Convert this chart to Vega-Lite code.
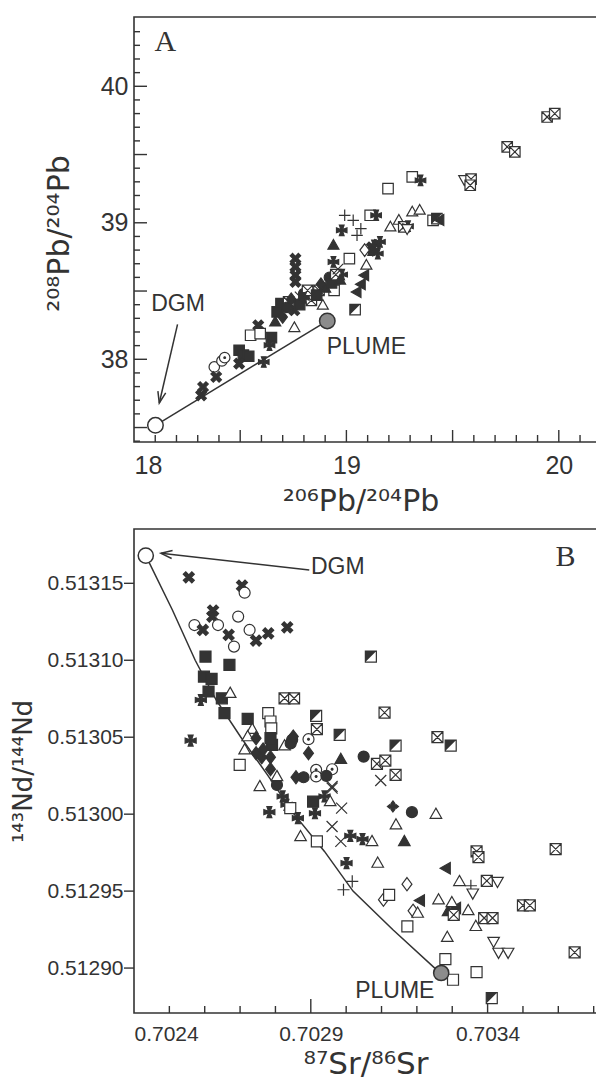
{
"$schema": "https://vega.github.io/schema/vega-lite/v6.json",
"padding": {"left": 9, "top": 16, "right": 0, "bottom": 2},
"bounds": "flush",
"spacing": 87,
"config": {
  "view": {"stroke": "#333", "strokeWidth": 1.6},
  "font": "Liberation Sans",
  "axis": {"domain": false, "grid": false, "ticks": false, "labelFont": "Liberation Sans", "titleFont": "DejaVu Sans", "labelColor": "#333", "titleColor": "#333", "titleFontWeight": "normal"}
},
"vconcat": [
{
  "width": 470, "height": 425,
  "encoding": {
    "x": {"field": "x", "type": "quantitative", "scale": {"domain": [18, 20.2128], "nice": false, "zero": false},
      "axis": {"values": [18, 19, 20], "format": "d",
        "labelPadding": 11, "labelFontSize": 25,
        "title": "²⁰⁶Pb/²⁰⁴Pb", "titleFontSize": 30, "titleX": 226.5, "titleY": 68, "titleBaseline": "alphabetic", "titleAlign": "center"}},
    "y": {"field": "y", "type": "quantitative", "scale": {"domain": [37.394, 40.5076], "nice": false, "zero": false},
      "axis": {"values": [38, 39, 40], "format": "d",
        "labelPadding": 6, "labelFontSize": 25,
        "title": "²⁰⁸Pb/²⁰⁴Pb", "titleFontSize": 30, "titleX": -74.5, "titleY": 216, "titleBaseline": "middle", "titleAlign": "center", "titleAngle": 270}}
  },
  "layer": [
    {
      "data": {"values": [{"x":18.1,"y":37.394},{"x":18.2,"y":37.394},{"x":18.3,"y":37.394},{"x":18.4,"y":37.394},{"x":18.6,"y":37.394},{"x":18.7,"y":37.394},{"x":18.8,"y":37.394},{"x":18.9,"y":37.394},{"x":19.1,"y":37.394},{"x":19.2,"y":37.394},{"x":19.3,"y":37.394},{"x":19.4,"y":37.394},{"x":19.6,"y":37.394},{"x":19.7,"y":37.394},{"x":19.8,"y":37.394},{"x":19.9,"y":37.394},{"x":20.1,"y":37.394},{"x":20.2,"y":37.394}]},
      "mark": {"type": "point", "shape": "M-0.1,0H0.1V-1H-0.1Z", "filled": true, "size": 196, "color": "#333", "strokeWidth": 0, "opacity": 1}
    },
    {
      "data": {"values": [{"x":18.5,"y":37.394},{"x":19,"y":37.394},{"x":19.5,"y":37.394},{"x":20,"y":37.394}]},
      "mark": {"type": "point", "shape": "M-0.058,0H0.058V-1H-0.058Z", "filled": true, "size": 576, "color": "#333", "strokeWidth": 0, "opacity": 1}
    },
    {
      "data": {"values": [{"x":18,"y":37.4},{"x":18,"y":37.6},{"x":18,"y":37.7},{"x":18,"y":37.8},{"x":18,"y":37.9},{"x":18,"y":38.1},{"x":18,"y":38.2},{"x":18,"y":38.3},{"x":18,"y":38.4},{"x":18,"y":38.6},{"x":18,"y":38.7},{"x":18,"y":38.8},{"x":18,"y":38.9},{"x":18,"y":39.1},{"x":18,"y":39.2},{"x":18,"y":39.3},{"x":18,"y":39.4},{"x":18,"y":39.6},{"x":18,"y":39.7},{"x":18,"y":39.8},{"x":18,"y":39.9},{"x":18,"y":40.1},{"x":18,"y":40.2},{"x":18,"y":40.3},{"x":18,"y":40.4}]},
      "mark": {"type": "point", "shape": "M0,-0.117H1V0.117H0Z", "filled": true, "size": 144, "color": "#333", "strokeWidth": 0, "opacity": 1}
    },
    {
      "data": {"values": [{"x":18,"y":37.5},{"x":18,"y":38},{"x":18,"y":38.5},{"x":18,"y":39},{"x":18,"y":39.5},{"x":18,"y":40}]},
      "mark": {"type": "point", "shape": "M0,-0.054H1V0.054H0Z", "filled": true, "size": 676, "color": "#333", "strokeWidth": 0, "opacity": 1}
    },
    {
      "data": {"values": [
        {"g": "mix", "i": 0, "x": 18.101, "y": 37.516},
        {"g": "mix", "i": 1, "x": 18.91, "y": 38.281},
        {"g": "arrow", "i": 0, "x": 18.205, "y": 38.256},
        {"g": "arrow", "i": 1, "x": 18.119, "y": 37.68}
      ]},
      "mark": {"type": "line", "color": "#333", "strokeWidth": 1.5},
      "encoding": {"detail": {"field": "g"}, "order": {"field": "i"}}
    },
    {
      "data": {"values": [{"x": 18.119, "y": 37.68}]},
      "mark": {"type": "point", "shape": "M-0.5,1.4L0,0L0.5,1.4", "filled": false, "size": 256, "angle": 193, "stroke": "#333", "strokeWidth": 1.5, "opacity": 1}
    },
    {
      "data": {"values": [
        {"s":"sqx","x":19.945,"y":39.775},{"s":"sqx","x":19.981,"y":39.80},
        {"s":"sqx","x":19.757,"y":39.556},{"s":"sqx","x":19.793,"y":39.519},
        {"s":"tridown","x":19.555,"y":39.316},
        {"s":"sqx","x":19.587,"y":39.32},{"s":"sqx","x":19.583,"y":39.275},
        {"s":"sq","x":19.196,"y":39.25},{"s":"sq","x":19.31,"y":39.336},{"s":"maltese","x":19.349,"y":39.311},
        {"s":"sq","x":19.112,"y":39.055},{"s":"maltese","x":19.14,"y":39.055},
        {"s":"plus","x":18.992,"y":39.055},{"s":"plus","x":19.032,"y":39.018},{"s":"plus","x":19.068,"y":38.957},{"s":"plus","x":19.05,"y":38.908},
        {"s":"maltese","x":18.978,"y":38.945},
        {"s":"trifill","x":18.939,"y":38.835},
        {"s":"maltese","x":18.939,"y":38.713},
        {"s":"sq","x":19.014,"y":38.737},
        {"s":"tri","x":19.207,"y":38.969},{"s":"tri","x":19.247,"y":39.018},{"s":"tri","x":19.31,"y":39.079},{"s":"tri","x":19.345,"y":39.092},
        {"s":"sqx","x":19.27,"y":38.97},{"s":"maltese","x":19.29,"y":38.975},{"s":"tridown","x":19.286,"y":38.957},
        {"s":"sq","x":19.408,"y":39.018},{"s":"sqhalf","x":19.426,"y":39.03},{"s":"trileft","x":19.44,"y":39.02},
        {"s":"xcross","x":19.12,"y":38.82},
        {"s":"maltese","x":19.13,"y":38.835},{"s":"maltese","x":19.158,"y":38.86},{"s":"maltese","x":19.112,"y":38.80},{"s":"maltese","x":19.148,"y":38.774},
        {"s":"diamond","x":19.086,"y":38.80},
        {"s":"tri","x":19.094,"y":38.689},
        {"s":"trileft","x":19.086,"y":38.615},{"s":"trileft","x":19.07,"y":38.55},{"s":"trileft","x":19.05,"y":38.493},
        {"s":"xcross","x":18.76,"y":38.737},{"s":"xcross","x":18.76,"y":38.677},{"s":"xcross","x":18.76,"y":38.616},{"s":"xcross","x":18.76,"y":38.567},
        {"s":"trifill","x":18.942,"y":38.579},
        {"s":"sqx","x":18.871,"y":38.505},{"s":"sqx","x":18.835,"y":38.432},{"s":"sq","x":18.942,"y":38.505},
        {"s":"sqhalf","x":19.041,"y":38.364},
        {"s":"tri","x":18.889,"y":38.396},
        {"s":"sqfill","x":18.692,"y":38.408},{"s":"sqx","x":18.728,"y":38.42},{"s":"x","x":18.782,"y":38.457},
        {"s":"xcross","x":18.755,"y":38.359},{"s":"sqfill","x":18.674,"y":38.347},{"s":"diafill","x":18.70,"y":38.31},
        {"s":"cfill","x":18.799,"y":38.481},{"s":"tri","x":18.755,"y":38.232},{"s":"trifill","x":18.665,"y":38.273},
        {"s":"sqx","x":18.817,"y":38.505},
        {"s":"cfill","x":18.72,"y":38.38},{"s":"sqfill","x":18.78,"y":38.40},{"s":"maltese","x":18.80,"y":38.45},
        {"s":"trifill","x":18.90,"y":38.52},{"s":"diafill","x":18.88,"y":38.55},{"s":"cfill","x":18.92,"y":38.60},
        {"s":"sqfill","x":18.93,"y":38.56},{"s":"maltese","x":18.98,"y":38.62},{"s":"sqx","x":18.95,"y":38.62},
        {"s":"x","x":18.96,"y":38.66},{"s":"trifill","x":18.97,"y":38.58},{"s":"sqfill","x":18.86,"y":38.47},{"s":"diafill","x":18.74,"y":38.44},
        {"s":"xcross","x":18.585,"y":38.249},
        {"s":"sq","x":18.549,"y":38.176},{"s":"sq","x":18.594,"y":38.188},
        {"s":"sqfill","x":18.647,"y":38.159},{"s":"maltese","x":18.638,"y":38.103},
        {"s":"sqfill","x":18.495,"y":38.066},{"s":"sqfill","x":18.515,"y":38.03},{"s":"sqfill","x":18.540,"y":38.022},
        {"s":"xcross","x":18.495,"y":37.968},
        {"s":"maltese","x":18.611,"y":37.98},
        {"s":"circle","x":18.378,"y":37.944},{"s":"circle","x":18.414,"y":37.988},{"s":"cdot","x":18.427,"y":38.012},
        {"s":"xcross","x":18.387,"y":37.871},
        {"s":"xcross","x":18.325,"y":37.797},{"s":"xcross","x":18.316,"y":37.736}
      ]},
      "layer": [
        {
          "mark": {"type": "point", "filled": true, "size": 110, "stroke": "#333", "strokeWidth": 1.2, "opacity": 1},
          "encoding": {
            "shape": {"field": "s", "type": "nominal", "legend": null, "scale": {
              "domain": ["circle","sq","sqfill","tri","trifill","trileft","tridown","diamond","diafill","cfill","cdot","sqx","sqhalf","plus","x","xcross","maltese","clover"],
              "range": ["M1,0A1,1,0,1,1,-1,0A1,1,0,1,1,1,0Z","M-1,-1H1V1H-1Z","M-1,-1H1V1H-1Z","M0,-1.1L1.05,0.75L-1.05,0.75Z","M0,-1.1L1.05,0.75L-1.05,0.75Z","M-1.1,0L0.75,-1.05L0.75,1.05Z","M0,1.1L1.05,-0.75L-1.05,-0.75Z","M0,-1.2L0.9,0L0,1.2L-0.9,0Z","M0,-1.2L0.9,0L0,1.2L-0.9,0Z","M1,0A1,1,0,1,1,-1,0A1,1,0,1,1,1,0Z","M1,0A1,1,0,1,1,-1,0A1,1,0,1,1,1,0Z","M-1,-1H1V1H-1ZM-1,-1L1,1M1,-1L-1,1","M-1,-1H1V1H-1Z","M-1.1,0H1.1M0,-1.1V1.1","M-1,-1L1,1M1,-1L-1,1","M-1,-0.55L-0.55,-1L0,-0.45L0.55,-1L1,-0.55L0.45,0L1,0.55L0.55,1L0,0.45L-0.55,1L-1,0.55L-0.45,0Z","M-0.45,-1H0.45L0.15,-0.15L1,-0.45V0.45L0.15,0.15L0.45,1H-0.45L-0.15,0.15L-1,0.45V-0.45L-0.15,-0.15Z","M0,-1L0.35,-0.55L0,-0.1L-0.35,-0.55ZM0,1L0.35,0.55L0,0.1L-0.35,0.55ZM-1,0L-0.55,0.35L-0.1,0L-0.55,-0.35ZM1,0L0.55,0.35L0.1,0L0.55,-0.35Z"]}},
            "fill": {"field": "s", "type": "nominal", "legend": null, "scale": {
              "domain": ["circle","sq","sqfill","tri","trifill","trileft","tridown","diamond","diafill","cfill","cdot","sqx","sqhalf","plus","x","xcross","maltese","clover"],
              "range": ["white","white","#333","white","#333","#333","white","white","#333","#333","white","white","white","white","white","#333","#333","#333"]}}
          }
        },
        {
          "transform": [{"filter": "datum.s==='sqhalf' || datum.s==='cdot'"}],
          "mark": {"type": "point", "filled": true, "size": 110, "strokeWidth": 0, "opacity": 1, "color": "#333"},
          "encoding": {
            "shape": {"field": "s", "type": "nominal", "legend": null, "scale": {"domain": ["sqhalf","cdot"], "range": ["M-1,-1L1,-1L-1,1Z","M-0.28,0A0.28,0.28,0,1,1,0.28,0A0.28,0.28,0,1,1,-0.28,0Z"]}}
          }
        }
      ],
      "resolve": {"scale": {"shape": "independent", "fill": "independent"}}
    },
    {
      "data": {"values": [{"k": "DGM", "x": 18.101, "y": 37.516}, {"k": "PLUME", "x": 18.91, "y": 38.281}]},
      "mark": {"type": "point", "shape": "circle", "filled": true, "size": 240, "stroke": "#333", "strokeWidth": 1.5, "opacity": 1},
      "encoding": {"fill": {"condition": {"test": "datum.k==='DGM'", "value": "white"}, "value": "#8c8c8c"}}
    },
    {
      "data": {"values": [{"t": "DGM", "x": 18.207, "y": 38.407}, {"t": "PLUME", "x": 19.094, "y": 38.09}]},
      "mark": {"type": "text", "font": "Liberation Sans", "fontSize": 23, "color": "#333", "align": "center", "baseline": "middle"},
      "encoding": {"text": {"field": "t"}}
    },
    {
      "data": {"values": [{"t": "A", "x": 18.148, "y": 40.325}]},
      "mark": {"type": "text", "font": "Liberation Serif", "fontSize": 30, "color": "#333", "align": "center", "baseline": "middle"},
      "encoding": {"text": {"field": "t"}}
    }
  ],
  "resolve": {"scale": {"shape": "independent", "fill": "independent"}}
},
{
  "width": 470, "height": 484,
  "encoding": {
    "x": {"field": "x", "type": "quantitative", "scale": {"domain": [0.7024, 0.7037292], "nice": false, "zero": false},
      "axis": {"values": [0.7024, 0.7029, 0.7034], "format": ".4f",
        "labelPadding": 10, "labelFontSize": 21,
        "title": "⁸⁷Sr/⁸⁶Sr", "titleFontSize": 31, "titleX": 231.5, "titleY": 60, "titleBaseline": "alphabetic", "titleAlign": "center"}},
    "y": {"field": "y", "type": "quantitative", "scale": {"domain": [0.5128708, 0.5131853], "nice": false, "zero": false},
      "axis": {"values": [0.5129,0.51295,0.513,0.51305,0.5131,0.51315],
        "format": ".5f", "labelPadding": 11, "labelFontSize": 21,
        "title": "¹⁴³Nd/¹⁴⁴Nd", "titleFontSize": 26, "titleX": -110.5, "titleY": 242, "titleBaseline": "middle", "titleAlign": "center", "titleAngle": 270}}
  },
  "layer": [
    {
      "data": {"values": [{"x":0.7025,"y":0.5128708},{"x":0.7026,"y":0.5128708},{"x":0.7027,"y":0.5128708},{"x":0.7028,"y":0.5128708},{"x":0.7030,"y":0.5128708},{"x":0.7031,"y":0.5128708},{"x":0.7032,"y":0.5128708},{"x":0.7033,"y":0.5128708},{"x":0.7035,"y":0.5128708},{"x":0.7036,"y":0.5128708},{"x":0.7037,"y":0.5128708}]},
      "mark": {"type": "point", "shape": "M-0.1,0H0.1V-1H-0.1Z", "filled": true, "size": 196, "color": "#333", "strokeWidth": 0, "opacity": 1}
    },
    {
      "data": {"values": [{"x":0.7029,"y":0.5128708},{"x":0.7034,"y":0.5128708}]},
      "mark": {"type": "point", "shape": "M-0.05,0H0.05V-1H-0.05Z", "filled": true, "size": 784, "color": "#333", "strokeWidth": 0, "opacity": 1}
    },
    {
      "data": {"values": [{"x":0.7024,"y":0.5129},{"x":0.7024,"y":0.51295},{"x":0.7024,"y":0.513},{"x":0.7024,"y":0.51305},{"x":0.7024,"y":0.5131},{"x":0.7024,"y":0.51315}]},
      "mark": {"type": "point", "shape": "M0,-0.07H-1V0.07H0Z", "filled": true, "size": 400, "color": "#333", "strokeWidth": 0, "opacity": 1}
    },
    {
      "data": {"values": [
        {"g":"mix","i":0,"x":0.7024333,"y":0.5131680},
        {"g":"mix","i":1,"x":0.7025086,"y":0.5131327},
        {"g":"mix","i":2,"x":0.7025731,"y":0.5131000},
        {"g":"mix","i":3,"x":0.7026323,"y":0.5130742},
        {"g":"mix","i":4,"x":0.7027022,"y":0.5130500},
        {"g":"mix","i":5,"x":0.7027774,"y":0.5130255},
        {"g":"mix","i":6,"x":0.7028527,"y":0.5130000},
        {"g":"mix","i":7,"x":0.7029387,"y":0.5129758},
        {"g":"mix","i":8,"x":0.7030194,"y":0.5129500},
        {"g":"mix","i":9,"x":0.7031323,"y":0.5129249},
        {"g":"mix","i":10,"x":0.7032505,"y":0.5129000},
        {"g":"mix","i":11,"x":0.7032688,"y":0.5128968},
        {"g":"arrow","i":0,"x":0.7028957,"y":0.5131587},
        {"g":"arrow","i":1,"x":0.7024763,"y":0.5131695}
      ]},
      "mark": {"type": "line", "color": "#333", "strokeWidth": 1.5},
      "encoding": {"detail": {"field": "g"}, "order": {"field": "i"}}
    },
    {
      "data": {"values": [{"x": 0.7024763, "y": 0.5131695}]},
      "mark": {"type": "point", "shape": "M-0.5,1.4L0,0L0.5,1.4", "filled": false, "size": 256, "angle": 276.4, "stroke": "#333", "strokeWidth": 1.5, "opacity": 1}
    },
    {
      "data": {"values": [
        {"s":"xcross","x":0.702555,"y":0.5131539},
        {"s":"xcross","x":0.7027054,"y":0.5131485},
        {"s":"circle","x":0.7027129,"y":0.5131439},
        {"s":"xcross","x":0.7026237,"y":0.5131323},
        {"s":"xcross","x":0.7026216,"y":0.5131284},
        {"s":"circle","x":0.702571,"y":0.5131229},
        {"s":"xcross","x":0.7025946,"y":0.5131197},
        {"s":"circle","x":0.7026376,"y":0.5131229},
        {"s":"circle","x":0.7026946,"y":0.5131284},
        {"s":"xcross","x":0.7026677,"y":0.5131165},
        {"s":"circle","x":0.7026828,"y":0.5131089},
        {"s":"circle","x":0.7027269,"y":0.5131197},
        {"s":"xcross","x":0.7027452,"y":0.5131128},
        {"s":"xcross","x":0.7027796,"y":0.5131175},
        {"s":"xcross","x":0.7028333,"y":0.5131214},
        {"s":"sqfill","x":0.7026022,"y":0.5131024},
        {"s":"sqfill","x":0.7026699,"y":0.5130970},
        {"s":"sqfill","x":0.7025978,"y":0.5130894},
        {"s":"sqfill","x":0.7026194,"y":0.5130879},
        {"s":"sqfill","x":0.7026108,"y":0.5130797},
        {"s":"sqfill","x":0.7026484,"y":0.5130753},
        {"s":"tri","x":0.702672,"y":0.5130786},
        {"s":"maltese","x":0.702589,"y":0.5130742},
        {"s":"sqfill","x":0.7026559,"y":0.5130656},
        {"s":"sqfill","x":0.7027215,"y":0.5130619},
        {"s":"sq","x":0.7027796,"y":0.5130656},
        {"s":"sq","x":0.702786,"y":0.5130602},
        {"s":"sq","x":0.7027882,"y":0.5130558},
        {"s":"maltese","x":0.7025602,"y":0.5130478},
        {"s":"tri","x":0.7027344,"y":0.5130552},
        {"s":"tri","x":0.7027215,"y":0.5130504},
        {"s":"diafill","x":0.7027452,"y":0.5130494},
        {"s":"sqfill","x":0.7027903,"y":0.5130450},
        {"s":"sqfill","x":0.702786,"y":0.5130494},
        {"s":"tri","x":0.7027129,"y":0.5130418},
        {"s":"diafill","x":0.7027452,"y":0.5130396},
        {"s":"diafill","x":0.7027613,"y":0.5130370},
        {"s":"diafill","x":0.7027860,"y":0.5130370},
        {"s":"diafill","x":0.702765,"y":0.5130420},
        {"s":"tri","x":0.7028258,"y":0.5130444},
        {"s":"cfill","x":0.7028473,"y":0.5130483},
        {"s":"cfill","x":0.702843,"y":0.5130460},
        {"s":"diafill","x":0.7028505,"y":0.5130504},
        {"s":"cdot","x":0.7028935,"y":0.5130487},
        {"s":"sqhalf","x":0.7029151,"y":0.5130639},
        {"s":"sqx","x":0.7029172,"y":0.5130552},
        {"s":"sqhalf","x":0.7029817,"y":0.5130515},
        {"s":"sqx","x":0.7028258,"y":0.5130753},
        {"s":"sqx","x":0.7028527,"y":0.5130753},
        {"s":"sqhalf","x":0.7030699,"y":0.5131024},
        {"s":"sqx","x":0.7031086,"y":0.5130660},
        {"s":"sqx","x":0.7032581,"y":0.5130500},
        {"s":"sqhalf","x":0.7032957,"y":0.5130446},
        {"s":"sqhalf","x":0.7031398,"y":0.5130446},
        {"s":"sqx","x":0.7030871,"y":0.5130327},
        {"s":"sqx","x":0.7031108,"y":0.5130348},
        {"s":"sqx","x":0.7031398,"y":0.5130255},
        {"s":"x","x":0.7030978,"y":0.5130219},
        {"s":"cfill","x":0.7030495,"y":0.5130374},
        {"s":"trifill","x":0.7029849,"y":0.5130357},
        {"s":"diafill","x":0.7028935,"y":0.5130396},
        {"s":"cdot","x":0.7029151,"y":0.5130288},
        {"s":"cdot","x":0.7029151,"y":0.5130245},
        {"s":"cdot","x":0.7029602,"y":0.5130292},
        {"s":"cfill","x":0.7029441,"y":0.5130249},
        {"s":"cfill","x":0.7028796,"y":0.5130240},
        {"s":"diafill","x":0.702858,"y":0.5130240},
        {"s":"x","x":0.7029602,"y":0.5130180},
        {"s":"sq","x":0.7026989,"y":0.5130320},
        {"s":"tri","x":0.7027559,"y":0.5130180},
        {"s":"diafill","x":0.702786,"y":0.5130292},
        {"s":"cfill","x":0.7028043,"y":0.5130190},
        {"s":"tri","x":0.7028043,"y":0.5130245},
        {"s":"maltese","x":0.7027828,"y":0.5130013},
        {"s":"maltese","x":0.7028204,"y":0.5130115},
        {"s":"maltese","x":0.7028312,"y":0.5130061},
        {"s":"sq","x":0.7028419,"y":0.5130039},
        {"s":"maltese","x":0.7028634,"y":0.5129974},
        {"s":"tri","x":0.702871,"y":0.5129855},
        {"s":"sq","x":0.7029172,"y":0.5129823},
        {"s":"maltese","x":0.7029118,"y":0.5130006},
        {"s":"sqfill","x":0.7029065,"y":0.5130082},
        {"s":"maltese","x":0.7029387,"y":0.5130115},
        {"s":"tri","x":0.7029548,"y":0.5130082},
        {"s":"x","x":0.7029602,"y":0.5130169},
        {"s":"x","x":0.7029871,"y":0.5130039},
        {"s":"x","x":0.7029602,"y":0.5129920},
        {"s":"x","x":0.7029849,"y":0.5129823},
        {"s":"maltese","x":0.7030118,"y":0.5129859},
        {"s":"maltese","x":0.7030462,"y":0.5129838},
        {"s":"tri","x":0.7030731,"y":0.5129823},
        {"s":"maltese","x":0.7030011,"y":0.5129682},
        {"s":"plus","x":0.7029925,"y":0.5129509},
        {"s":"plus","x":0.7030172,"y":0.5129563},
        {"s":"tri","x":0.7030892,"y":0.5129682},
        {"s":"diamond","x":0.7031054,"y":0.5129444},
        {"s":"sq","x":0.7031215,"y":0.5129476},
        {"s":"diamond","x":0.703172,"y":0.5129545},
        {"s":"diamond","x":0.7031892,"y":0.5129372},
        {"s":"tri","x":0.7032022,"y":0.5129357},
        {"s":"sq","x":0.7031731,"y":0.5129271},
        {"s":"clover","x":0.7031323,"y":0.5130050},
        {"s":"cfill","x":0.703186,"y":0.5130013},
        {"s":"tri","x":0.7031409,"y":0.5129931},
        {"s":"trifill","x":0.7031645,"y":0.5129823},
        {"s":"tri","x":0.7032538,"y":0.5130000},
        {"s":"trileft","x":0.7032828,"y":0.5129649},
        {"s":"trileft","x":0.7032097,"y":0.5129439},
        {"s":"tri","x":0.7032613,"y":0.5129444},
        {"s":"tri","x":0.7033204,"y":0.5129563},
        {"s":"plus","x":0.7033527,"y":0.5129535},
        {"s":"tridown","x":0.7033581,"y":0.5129487},
        {"s":"trifill","x":0.7032882,"y":0.5129368},
        {"s":"trileft","x":0.7033118,"y":0.5129390},
        {"s":"tri","x":0.7032989,"y":0.5129426},
        {"s":"sqx","x":0.7033043,"y":0.5129346},
        {"s":"tri","x":0.7033452,"y":0.5129374},
        {"s":"tri","x":0.7033667,"y":0.5129271},
        {"s":"tri","x":0.703286,"y":0.5129200},
        {"s":"sqx","x":0.7033688,"y":0.5129758},
        {"s":"sqx","x":0.7033742,"y":0.5129721},
        {"s":"sqx","x":0.7033978,"y":0.5129567},
        {"s":"tridown","x":0.703428,"y":0.5129563},
        {"s":"sqx","x":0.7033903,"y":0.5129325},
        {"s":"sqx","x":0.703414,"y":0.5129325},
        {"s":"sqx","x":0.7035,"y":0.5129407},
        {"s":"sqx","x":0.7035194,"y":0.5129407},
        {"s":"sqx","x":0.7035925,"y":0.5129773},
        {"s":"sqx","x":0.7036462,"y":0.5129102},
        {"s":"tridown","x":0.703417,"y":0.5129173},
        {"s":"tridown","x":0.703431,"y":0.5129102},
        {"s":"tridown","x":0.703458,"y":0.5129102},
        {"s":"sq","x":0.7032806,"y":0.5129058},
        {"s":"sq","x":0.7033688,"y":0.5128974},
        {"s":"sq","x":0.7033022,"y":0.5128924},
        {"s":"sqhalf","x":0.7034118,"y":0.5128805}
      ]},
      "layer": [
        {
          "mark": {"type": "point", "filled": true, "size": 121, "stroke": "#333", "strokeWidth": 1.2, "opacity": 1},
          "encoding": {
            "shape": {"field": "s", "type": "nominal", "legend": null, "scale": {
              "domain": ["circle","sq","sqfill","tri","trifill","trileft","tridown","diamond","diafill","cfill","cdot","sqx","sqhalf","plus","x","xcross","maltese","clover"],
              "range": ["M1,0A1,1,0,1,1,-1,0A1,1,0,1,1,1,0Z","M-1,-1H1V1H-1Z","M-1,-1H1V1H-1Z","M0,-1.1L1.05,0.75L-1.05,0.75Z","M0,-1.1L1.05,0.75L-1.05,0.75Z","M-1.1,0L0.75,-1.05L0.75,1.05Z","M0,1.1L1.05,-0.75L-1.05,-0.75Z","M0,-1.2L0.9,0L0,1.2L-0.9,0Z","M0,-1.2L0.9,0L0,1.2L-0.9,0Z","M1,0A1,1,0,1,1,-1,0A1,1,0,1,1,1,0Z","M1,0A1,1,0,1,1,-1,0A1,1,0,1,1,1,0Z","M-1,-1H1V1H-1ZM-1,-1L1,1M1,-1L-1,1","M-1,-1H1V1H-1Z","M-1.1,0H1.1M0,-1.1V1.1","M-1,-1L1,1M1,-1L-1,1","M-1,-0.55L-0.55,-1L0,-0.45L0.55,-1L1,-0.55L0.45,0L1,0.55L0.55,1L0,0.45L-0.55,1L-1,0.55L-0.45,0Z","M-0.45,-1H0.45L0.15,-0.15L1,-0.45V0.45L0.15,0.15L0.45,1H-0.45L-0.15,0.15L-1,0.45V-0.45L-0.15,-0.15Z","M0,-1L0.35,-0.55L0,-0.1L-0.35,-0.55ZM0,1L0.35,0.55L0,0.1L-0.35,0.55ZM-1,0L-0.55,0.35L-0.1,0L-0.55,-0.35ZM1,0L0.55,0.35L0.1,0L0.55,-0.35Z"]}},
            "fill": {"field": "s", "type": "nominal", "legend": null, "scale": {
              "domain": ["circle","sq","sqfill","tri","trifill","trileft","tridown","diamond","diafill","cfill","cdot","sqx","sqhalf","plus","x","xcross","maltese","clover"],
              "range": ["white","white","#333","white","#333","#333","white","white","#333","#333","white","white","white","white","white","#333","#333","#333"]}}
          }
        },
        {
          "transform": [{"filter": "datum.s==='sqhalf' || datum.s==='cdot'"}],
          "mark": {"type": "point", "filled": true, "size": 121, "strokeWidth": 0, "opacity": 1, "color": "#333"},
          "encoding": {
            "shape": {"field": "s", "type": "nominal", "legend": null, "scale": {"domain": ["sqhalf","cdot"], "range": ["M-1,-1L1,-1L-1,1Z","M-0.28,0A0.28,0.28,0,1,1,0.28,0A0.28,0.28,0,1,1,-0.28,0Z"]}}
          }
        }
      ],
      "resolve": {"scale": {"shape": "independent", "fill": "independent"}}
    },
    {
      "data": {"values": [{"k": "DGM", "x": 0.7024333, "y": 0.513168}, {"k": "PLUME", "x": 0.7032688, "y": 0.5128968}]},
      "mark": {"type": "point", "shape": "circle", "filled": true, "size": 230, "stroke": "#333", "strokeWidth": 1.5, "opacity": 1},
      "encoding": {"fill": {"condition": {"test": "datum.k==='DGM'", "value": "white"}, "value": "#8c8c8c"}}
    },
    {
      "data": {"values": [{"t": "DGM", "x": 0.7029763, "y": 0.5131608}, {"t": "PLUME", "x": 0.7031376, "y": 0.5128848}]},
      "mark": {"type": "text", "font": "Liberation Sans", "fontSize": 23, "color": "#333", "align": "center", "baseline": "middle"},
      "encoding": {"text": {"field": "t"}}
    },
    {
      "data": {"values": [{"t": "B", "x": 0.7036205, "y": 0.5131673}]},
      "mark": {"type": "text", "font": "Liberation Serif", "fontSize": 30, "color": "#333", "align": "center", "baseline": "middle"},
      "encoding": {"text": {"field": "t"}}
    }
  ],
  "resolve": {"scale": {"shape": "independent", "fill": "independent"}}
}
]
}
